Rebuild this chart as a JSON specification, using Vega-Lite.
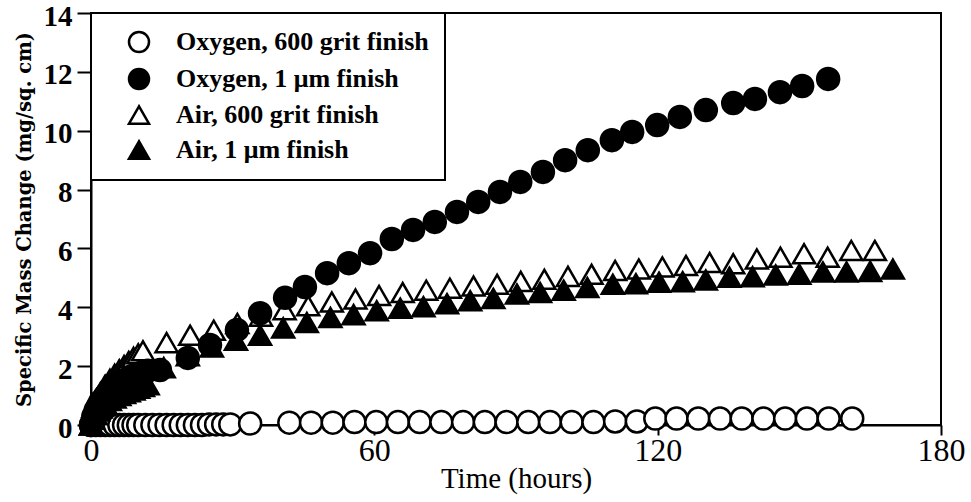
{
  "$schema": "https://vega.github.io/schema/vega-lite/v6.json",
  "width": 850,
  "height": 412,
  "autosize": "none",
  "padding": {"left": 91, "top": 13, "right": 30, "bottom": 77},
  "background": "white",
  "config": {
    "view": {"stroke": "black", "strokeWidth": 2},
    "axis": {
      "grid": false,
      "domainColor": "black",
      "domainWidth": 2,
      "tickColor": "black",
      "tickWidth": 2,
      "labelColor": "black",
      "titleColor": "black",
      "labelFlush": false,
      "labelOverlap": false
    },
    "legend": {
      "orient": "none",
      "legendX": 0,
      "legendY": 0,
      "strokeColor": "black",
      "strokeWidth": 2,
      "fillColor": "white",
      "padding": 16,
      "rowPadding": 7,
      "symbolSize": 400,
      "symbolOffset": 19,
      "symbolStrokeColor": "black",
      "symbolStrokeWidth": 2.5,
      "labelOffset": 24,
      "labelFont": "Liberation Serif",
      "labelFontSize": 26,
      "labelFontWeight": "bold",
      "labelColor": "black",
      "labelLimit": 400
    }
  },
  "datasets": {
    "pts": [
      {"s": "Oxygen, 600 grit finish", "t": 0, "m": 0},
      {"s": "Oxygen, 600 grit finish", "t": 1, "m": 0},
      {"s": "Oxygen, 600 grit finish", "t": 2, "m": 0},
      {"s": "Oxygen, 600 grit finish", "t": 3, "m": 0},
      {"s": "Oxygen, 600 grit finish", "t": 4, "m": 0},
      {"s": "Oxygen, 600 grit finish", "t": 5, "m": 0},
      {"s": "Oxygen, 600 grit finish", "t": 6, "m": 0},
      {"s": "Oxygen, 600 grit finish", "t": 7, "m": 0},
      {"s": "Oxygen, 600 grit finish", "t": 8, "m": 0},
      {"s": "Oxygen, 600 grit finish", "t": 9, "m": 0},
      {"s": "Oxygen, 600 grit finish", "t": 10, "m": 0},
      {"s": "Oxygen, 600 grit finish", "t": 11.5, "m": 0},
      {"s": "Oxygen, 600 grit finish", "t": 13, "m": 0},
      {"s": "Oxygen, 600 grit finish", "t": 14.5, "m": 0},
      {"s": "Oxygen, 600 grit finish", "t": 16, "m": 0},
      {"s": "Oxygen, 600 grit finish", "t": 17.5, "m": 0},
      {"s": "Oxygen, 600 grit finish", "t": 19, "m": 0},
      {"s": "Oxygen, 600 grit finish", "t": 20.5, "m": 0},
      {"s": "Oxygen, 600 grit finish", "t": 22, "m": 0},
      {"s": "Oxygen, 600 grit finish", "t": 23.5, "m": 0},
      {"s": "Oxygen, 600 grit finish", "t": 25, "m": 0.02},
      {"s": "Oxygen, 600 grit finish", "t": 26.5, "m": 0.02},
      {"s": "Oxygen, 600 grit finish", "t": 28, "m": 0.02},
      {"s": "Oxygen, 600 grit finish", "t": 29.5, "m": 0.02},
      {"s": "Oxygen, 600 grit finish", "t": 33.7, "m": 0.05},
      {"s": "Oxygen, 600 grit finish", "t": 42, "m": 0.08},
      {"s": "Oxygen, 600 grit finish", "t": 46.6, "m": 0.08},
      {"s": "Oxygen, 600 grit finish", "t": 51.2, "m": 0.08},
      {"s": "Oxygen, 600 grit finish", "t": 55.8, "m": 0.1},
      {"s": "Oxygen, 600 grit finish", "t": 60.4, "m": 0.1},
      {"s": "Oxygen, 600 grit finish", "t": 65, "m": 0.1},
      {"s": "Oxygen, 600 grit finish", "t": 69.6, "m": 0.1},
      {"s": "Oxygen, 600 grit finish", "t": 74.2, "m": 0.1},
      {"s": "Oxygen, 600 grit finish", "t": 78.8, "m": 0.1},
      {"s": "Oxygen, 600 grit finish", "t": 83.4, "m": 0.1},
      {"s": "Oxygen, 600 grit finish", "t": 88, "m": 0.1},
      {"s": "Oxygen, 600 grit finish", "t": 92.6, "m": 0.1},
      {"s": "Oxygen, 600 grit finish", "t": 97.2, "m": 0.1},
      {"s": "Oxygen, 600 grit finish", "t": 101.8, "m": 0.1},
      {"s": "Oxygen, 600 grit finish", "t": 106.4, "m": 0.1},
      {"s": "Oxygen, 600 grit finish", "t": 111, "m": 0.12},
      {"s": "Oxygen, 600 grit finish", "t": 115.6, "m": 0.12},
      {"s": "Oxygen, 600 grit finish", "t": 119.5, "m": 0.22},
      {"s": "Oxygen, 600 grit finish", "t": 124, "m": 0.22},
      {"s": "Oxygen, 600 grit finish", "t": 128.6, "m": 0.22},
      {"s": "Oxygen, 600 grit finish", "t": 133.2, "m": 0.22},
      {"s": "Oxygen, 600 grit finish", "t": 137.8, "m": 0.22},
      {"s": "Oxygen, 600 grit finish", "t": 142.4, "m": 0.22},
      {"s": "Oxygen, 600 grit finish", "t": 147, "m": 0.22},
      {"s": "Oxygen, 600 grit finish", "t": 151.6, "m": 0.22},
      {"s": "Oxygen, 600 grit finish", "t": 156.2, "m": 0.22},
      {"s": "Oxygen, 600 grit finish", "t": 161.2, "m": 0.22},

      {"s": "Air, 600 grit finish", "t": 0, "m": 0},
      {"s": "Air, 600 grit finish", "t": 0.5, "m": 0.6},
      {"s": "Air, 600 grit finish", "t": 1, "m": 0.8},
      {"s": "Air, 600 grit finish", "t": 1.5, "m": 0.95},
      {"s": "Air, 600 grit finish", "t": 2, "m": 1.1},
      {"s": "Air, 600 grit finish", "t": 3, "m": 1.35},
      {"s": "Air, 600 grit finish", "t": 4, "m": 1.55},
      {"s": "Air, 600 grit finish", "t": 5, "m": 1.72},
      {"s": "Air, 600 grit finish", "t": 6, "m": 1.88},
      {"s": "Air, 600 grit finish", "t": 7, "m": 2.02},
      {"s": "Air, 600 grit finish", "t": 8, "m": 2.16},
      {"s": "Air, 600 grit finish", "t": 9, "m": 2.3},
      {"s": "Air, 600 grit finish", "t": 10, "m": 2.42},
      {"s": "Air, 600 grit finish", "t": 11, "m": 2.52},
      {"s": "Air, 600 grit finish", "t": 16, "m": 2.8},
      {"s": "Air, 600 grit finish", "t": 21, "m": 3.05},
      {"s": "Air, 600 grit finish", "t": 26, "m": 3.22},
      {"s": "Air, 600 grit finish", "t": 31, "m": 3.45},
      {"s": "Air, 600 grit finish", "t": 36, "m": 3.7},
      {"s": "Air, 600 grit finish", "t": 41, "m": 3.92},
      {"s": "Air, 600 grit finish", "t": 46, "m": 4.05},
      {"s": "Air, 600 grit finish", "t": 51, "m": 4.18},
      {"s": "Air, 600 grit finish", "t": 56, "m": 4.28},
      {"s": "Air, 600 grit finish", "t": 61, "m": 4.4},
      {"s": "Air, 600 grit finish", "t": 66, "m": 4.5},
      {"s": "Air, 600 grit finish", "t": 71, "m": 4.58},
      {"s": "Air, 600 grit finish", "t": 76, "m": 4.65},
      {"s": "Air, 600 grit finish", "t": 81, "m": 4.72},
      {"s": "Air, 600 grit finish", "t": 86, "m": 4.78},
      {"s": "Air, 600 grit finish", "t": 91, "m": 4.88},
      {"s": "Air, 600 grit finish", "t": 96, "m": 4.95},
      {"s": "Air, 600 grit finish", "t": 101, "m": 5.05},
      {"s": "Air, 600 grit finish", "t": 106, "m": 5.12},
      {"s": "Air, 600 grit finish", "t": 111, "m": 5.25},
      {"s": "Air, 600 grit finish", "t": 116, "m": 5.3},
      {"s": "Air, 600 grit finish", "t": 121, "m": 5.37},
      {"s": "Air, 600 grit finish", "t": 126, "m": 5.42},
      {"s": "Air, 600 grit finish", "t": 131, "m": 5.52},
      {"s": "Air, 600 grit finish", "t": 136, "m": 5.48},
      {"s": "Air, 600 grit finish", "t": 141, "m": 5.64},
      {"s": "Air, 600 grit finish", "t": 146, "m": 5.7},
      {"s": "Air, 600 grit finish", "t": 151, "m": 5.82},
      {"s": "Air, 600 grit finish", "t": 156, "m": 5.7},
      {"s": "Air, 600 grit finish", "t": 161, "m": 5.93},
      {"s": "Air, 600 grit finish", "t": 166, "m": 5.93},

      {"s": "Oxygen, 1 μm finish", "t": 0, "m": 0},
      {"s": "Oxygen, 1 μm finish", "t": 0.5, "m": 0.3},
      {"s": "Oxygen, 1 μm finish", "t": 1, "m": 0.5},
      {"s": "Oxygen, 1 μm finish", "t": 1.5, "m": 0.65},
      {"s": "Oxygen, 1 μm finish", "t": 2, "m": 0.8},
      {"s": "Oxygen, 1 μm finish", "t": 3, "m": 1.0},
      {"s": "Oxygen, 1 μm finish", "t": 4, "m": 1.15},
      {"s": "Oxygen, 1 μm finish", "t": 5, "m": 1.3},
      {"s": "Oxygen, 1 μm finish", "t": 6, "m": 1.42},
      {"s": "Oxygen, 1 μm finish", "t": 7, "m": 1.52},
      {"s": "Oxygen, 1 μm finish", "t": 8, "m": 1.6},
      {"s": "Oxygen, 1 μm finish", "t": 9, "m": 1.68},
      {"s": "Oxygen, 1 μm finish", "t": 10, "m": 1.74},
      {"s": "Oxygen, 1 μm finish", "t": 11, "m": 1.8},
      {"s": "Oxygen, 1 μm finish", "t": 12, "m": 1.84},
      {"s": "Oxygen, 1 μm finish", "t": 14.6, "m": 1.87},
      {"s": "Oxygen, 1 μm finish", "t": 20.5, "m": 2.28},
      {"s": "Oxygen, 1 μm finish", "t": 25.2, "m": 2.72},
      {"s": "Oxygen, 1 μm finish", "t": 30.9, "m": 3.23},
      {"s": "Oxygen, 1 μm finish", "t": 35.8, "m": 3.8},
      {"s": "Oxygen, 1 μm finish", "t": 41.1, "m": 4.32},
      {"s": "Oxygen, 1 μm finish", "t": 45.3, "m": 4.69},
      {"s": "Oxygen, 1 μm finish", "t": 50.0, "m": 5.16},
      {"s": "Oxygen, 1 μm finish", "t": 54.6, "m": 5.5},
      {"s": "Oxygen, 1 μm finish", "t": 59.1, "m": 5.84},
      {"s": "Oxygen, 1 μm finish", "t": 63.7, "m": 6.32},
      {"s": "Oxygen, 1 μm finish", "t": 68.2, "m": 6.63},
      {"s": "Oxygen, 1 μm finish", "t": 72.8, "m": 6.9},
      {"s": "Oxygen, 1 μm finish", "t": 77.5, "m": 7.24},
      {"s": "Oxygen, 1 μm finish", "t": 82.0, "m": 7.58},
      {"s": "Oxygen, 1 μm finish", "t": 86.6, "m": 7.92},
      {"s": "Oxygen, 1 μm finish", "t": 90.9, "m": 8.26},
      {"s": "Oxygen, 1 μm finish", "t": 95.7, "m": 8.6},
      {"s": "Oxygen, 1 μm finish", "t": 100.4, "m": 9.0},
      {"s": "Oxygen, 1 μm finish", "t": 105.2, "m": 9.34},
      {"s": "Oxygen, 1 μm finish", "t": 110.3, "m": 9.68},
      {"s": "Oxygen, 1 μm finish", "t": 114.6, "m": 9.96},
      {"s": "Oxygen, 1 μm finish", "t": 119.9, "m": 10.19},
      {"s": "Oxygen, 1 μm finish", "t": 124.7, "m": 10.47},
      {"s": "Oxygen, 1 μm finish", "t": 130.2, "m": 10.7},
      {"s": "Oxygen, 1 μm finish", "t": 136.0, "m": 10.94},
      {"s": "Oxygen, 1 μm finish", "t": 140.6, "m": 11.08},
      {"s": "Oxygen, 1 μm finish", "t": 145.9, "m": 11.31},
      {"s": "Oxygen, 1 μm finish", "t": 150.6, "m": 11.52},
      {"s": "Oxygen, 1 μm finish", "t": 156.1, "m": 11.76},

      {"s": "Air, 1 μm finish", "t": 0, "m": 0},
      {"s": "Air, 1 μm finish", "t": 0.5, "m": 0.2},
      {"s": "Air, 1 μm finish", "t": 1, "m": 0.35},
      {"s": "Air, 1 μm finish", "t": 1.5, "m": 0.48},
      {"s": "Air, 1 μm finish", "t": 2, "m": 0.58},
      {"s": "Air, 1 μm finish", "t": 3, "m": 0.72},
      {"s": "Air, 1 μm finish", "t": 4, "m": 0.83},
      {"s": "Air, 1 μm finish", "t": 5, "m": 0.92},
      {"s": "Air, 1 μm finish", "t": 6, "m": 1.0},
      {"s": "Air, 1 μm finish", "t": 7, "m": 1.07},
      {"s": "Air, 1 μm finish", "t": 8, "m": 1.13},
      {"s": "Air, 1 μm finish", "t": 9, "m": 1.19},
      {"s": "Air, 1 μm finish", "t": 10, "m": 1.25},
      {"s": "Air, 1 μm finish", "t": 11, "m": 1.31},
      {"s": "Air, 1 μm finish", "t": 12, "m": 1.37},
      {"s": "Air, 1 μm finish", "t": 15.4, "m": 1.95},
      {"s": "Air, 1 μm finish", "t": 20.5, "m": 2.35},
      {"s": "Air, 1 μm finish", "t": 25.6, "m": 2.65},
      {"s": "Air, 1 μm finish", "t": 30.7, "m": 2.88},
      {"s": "Air, 1 μm finish", "t": 35.8, "m": 3.05},
      {"s": "Air, 1 μm finish", "t": 40.7, "m": 3.3},
      {"s": "Air, 1 μm finish", "t": 45.7, "m": 3.48},
      {"s": "Air, 1 μm finish", "t": 50.7, "m": 3.65},
      {"s": "Air, 1 μm finish", "t": 55.6, "m": 3.75},
      {"s": "Air, 1 μm finish", "t": 60.5, "m": 3.88},
      {"s": "Air, 1 μm finish", "t": 65.5, "m": 3.97},
      {"s": "Air, 1 μm finish", "t": 70.4, "m": 4.02},
      {"s": "Air, 1 μm finish", "t": 75.4, "m": 4.12},
      {"s": "Air, 1 μm finish", "t": 80.3, "m": 4.22},
      {"s": "Air, 1 μm finish", "t": 85.2, "m": 4.3},
      {"s": "Air, 1 μm finish", "t": 90.2, "m": 4.45},
      {"s": "Air, 1 μm finish", "t": 95.1, "m": 4.5},
      {"s": "Air, 1 μm finish", "t": 100.1, "m": 4.58},
      {"s": "Air, 1 μm finish", "t": 105.1, "m": 4.67},
      {"s": "Air, 1 μm finish", "t": 110.5, "m": 4.78},
      {"s": "Air, 1 μm finish", "t": 115.4, "m": 4.8},
      {"s": "Air, 1 μm finish", "t": 120.3, "m": 4.85},
      {"s": "Air, 1 μm finish", "t": 125.3, "m": 4.87},
      {"s": "Air, 1 μm finish", "t": 130.2, "m": 4.93},
      {"s": "Air, 1 μm finish", "t": 135.2, "m": 5.02},
      {"s": "Air, 1 μm finish", "t": 140.1, "m": 5.04},
      {"s": "Air, 1 μm finish", "t": 145.0, "m": 5.1},
      {"s": "Air, 1 μm finish", "t": 150.0, "m": 5.12},
      {"s": "Air, 1 μm finish", "t": 155.0, "m": 5.2},
      {"s": "Air, 1 μm finish", "t": 160.0, "m": 5.2},
      {"s": "Air, 1 μm finish", "t": 165.0, "m": 5.22},
      {"s": "Air, 1 μm finish", "t": 169.8, "m": 5.3}
    ]
  },
  "data": {"name": "pts"},
  "mark": {"type": "point", "filled": true, "strokeWidth": 2.5, "size": 484, "opacity": 1},
  "encoding": {
    "x": {
      "field": "t",
      "type": "quantitative",
      "scale": {"domain": [0, 180], "nice": false, "zero": false},
      "axis": {
        "values": [0, 60, 120, 180],
        "title": "Time (hours)",
        "tickSize": 10,
        "labelFont": "Liberation Serif",
        "labelFontSize": 32,
        "labelPadding": 0,
        "titleFont": "Liberation Serif",
        "titleFontSize": 29,
        "titleFontWeight": "normal",
        "titlePadding": -2
      }
    },
    "y": {
      "field": "m",
      "type": "quantitative",
      "scale": {"domain": [0, 14], "nice": false},
      "axis": {
        "values": [0, 2, 4, 6, 8, 10, 12, 14],
        "title": "Specific Mass Change (mg/sq. cm)",
        "tickSize": 14,
        "labelFont": "Liberation Serif",
        "labelFontSize": 29,
        "labelFontWeight": "bold",
        "labelPadding": 5,
        "labelOffset": 3,
        "titleFont": "DejaVu Serif",
        "titleFontSize": 19.5,
        "titleFontWeight": "bold",
        "titlePadding": 9
      }
    },
    "shape": {
      "field": "s",
      "type": "nominal",
      "scale": {
        "domain": ["Oxygen, 600 grit finish", "Oxygen, 1 μm finish", "Air, 600 grit finish", "Air, 1 μm finish"],
        "range": ["circle", "circle", "triangle-up", "triangle-up"]
      },
      "legend": {"title": null}
    },
    "fill": {
      "field": "s",
      "type": "nominal",
      "scale": {
        "domain": ["Oxygen, 600 grit finish", "Oxygen, 1 μm finish", "Air, 600 grit finish", "Air, 1 μm finish"],
        "range": ["white", "black", "white", "black"]
      },
      "legend": {"title": null}
    },
    "stroke": {
      "field": "s",
      "type": "nominal",
      "scale": {
        "domain": ["Oxygen, 600 grit finish", "Oxygen, 1 μm finish", "Air, 600 grit finish", "Air, 1 μm finish"],
        "range": ["black", "black", "black", "black"]
      },
      "legend": {"title": null}
    }
  }
}
